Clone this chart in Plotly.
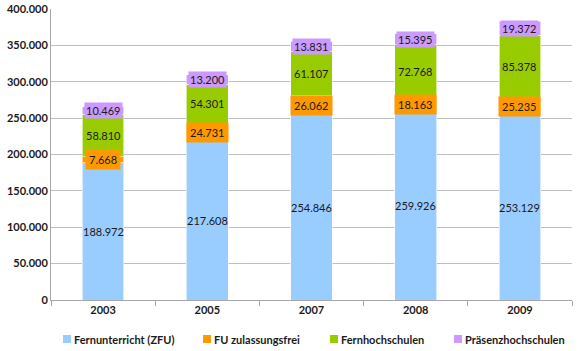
import plotly.graph_objects as go

years = ["2003", "2005", "2007", "2008", "2009"]
fern_zfu = [188972, 217608, 254846, 259926, 253129]
fu_frei = [7668, 24731, 26062, 18163, 25235]
fernhoch = [58810, 54301, 61107, 72768, 85378]
praesenz = [10469, 13200, 13831, 15395, 19372]

names = ["Fernunterricht (ZFU)", "FU zulassungsfrei", "Fernhochschulen", "Präsenzhochschulen"]
colors = ["#99CCFF", "#FF9900", "#99CC00", "#CC99FF"]
label_bg = [None, "#FF9900", None, "#CC99FF"]
label_pad = [1, 3, 1, 1]
series = [fern_zfu, fu_frei, fernhoch, praesenz]

def fmt(v):
    return f"{v:,}".replace(",", ".")

FONT = "Lato, Open Sans, sans-serif"
W, H = 580, 351
ML, MR, MT, MB = 51, 8, 9, 51
PW, PH = W - ML - MR, H - MT - MB

def px_x(p):
    return (p - ML) / PW

def px_y(p):
    return (H - MB - p) / PH

fig = go.Figure()
for name, col, vals in zip(names, colors, series):
    fig.add_trace(go.Bar(x=years, y=vals, name=name,
                         marker=dict(color=col, line=dict(color="rgba(255,255,255,0.6)", width=1)),
                         width=0.4, hoverinfo="skip", showlegend=False))

annotations = []
base = [0] * len(years)
for vals, bg, pad in zip(series, label_bg, label_pad):
    for i, v in enumerate(vals):
        mid = base[i] + v / 2
        a = dict(x=i, y=mid, text=fmt(v), showarrow=False, xref="x", yref="y",
                 font=dict(family=FONT, size=11, color="#1a1a1a"))
        if bg:
            a.update(bgcolor=bg, borderpad=pad)
        annotations.append(a)
        base[i] += v

# manual legend (layout positions in pixels)
legend_sym_px = [63, 203, 330, 454]
legend_y_px = 339
shapes = []
for name, col, sx in zip(names, colors, legend_sym_px):
    shapes.append(dict(type="rect", xref="paper", yref="paper",
                       x0=px_x(sx), x1=px_x(sx + 8), y0=px_y(legend_y_px + 4), y1=px_y(legend_y_px - 4),
                       fillcolor=col, line=dict(width=0)))
    annotations.append(dict(x=px_x(sx + 9), y=px_y(legend_y_px), xref="paper", yref="paper",
                            text=name, showarrow=False, xanchor="left", yanchor="middle",
                            font=dict(family=FONT, size=11, color="#1a1a1a", weight="bold")))

fig.update_layout(
    barmode="stack",
    width=W, height=H,
    margin=dict(l=ML, r=MR, t=MT, b=MB, autoexpand=False),
    paper_bgcolor="white", plot_bgcolor="white",
    separators=",.",
    showlegend=False,
    font=dict(family=FONT, size=11, color="#1a1a1a"),
    annotations=annotations,
    shapes=shapes,
    yaxis=dict(range=[0, 400000], dtick=50000, tickformat=",d", showgrid=True, gridcolor="#BFBFBF", gridwidth=1,
               showline=True, linecolor="#A6A6A6", linewidth=1, ticks="", zeroline=False,
               tickfont=dict(family=FONT, size=11, color="#1a1a1a", weight="bold")),
    xaxis=dict(type="category", range=[-0.5, 4.5], showline=True, linecolor="#A6A6A6", linewidth=1,
               ticks="outside", tickson="boundaries", ticklen=5, tickcolor="#A6A6A6", showgrid=False,
               tickfont=dict(family=FONT, size=11, color="#1a1a1a", weight="bold")),
)

fig.write_html("out.html")
